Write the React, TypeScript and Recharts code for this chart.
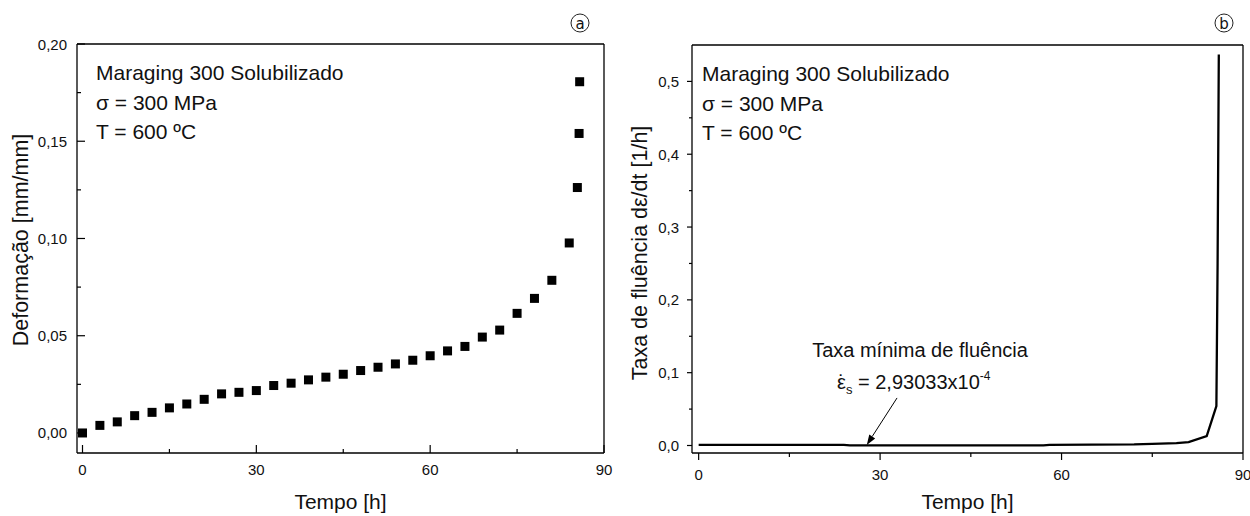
import { ScatterChart, Scatter, LineChart, Line, XAxis, YAxis, ReferenceLine, Label } from "recharts"

const FONT = '"Liberation Sans", Arial, sans-serif'
const BLACK = "#000"

// (a) deformação x tempo
const tempoDeformacao = [0, 3, 6, 9, 12, 15, 18, 21, 24, 27, 30, 33, 36, 39, 42, 45, 48, 51, 54, 57, 60, 63, 66, 69, 72, 75, 78, 81, 84, 85.4, 85.7, 85.8]
const deformacao = [0, 0.0039, 0.0057, 0.0089, 0.0106, 0.0129, 0.0149, 0.0173, 0.0201, 0.0209, 0.0218, 0.0244, 0.0256, 0.0273, 0.0287, 0.0302, 0.0321, 0.0338, 0.0355, 0.0374, 0.0397, 0.0422, 0.0445, 0.0493, 0.0529, 0.0615, 0.0692, 0.0785, 0.0977, 0.1262, 0.154, 0.1806]

// (b) taxa de fluência x tempo
const tempoTaxa = [0, 24, 25, 57, 58, 72, 75, 79, 81, 84, 85.6, 85.8, 86]
const taxa = [0.0009, 0.0009, 0.0003, 0.0003, 0.0009, 0.0015, 0.0022, 0.0032, 0.0047, 0.0128, 0.054, 0.25, 0.537]

// ticks
const ticksTempo = [0, 15, 30, 45, 60, 75, 90]
const majorTempo = [0, 30, 60, 90]
const ticksDeformacao = [0, 0.025, 0.05, 0.075, 0.1, 0.125, 0.15, 0.175, 0.2]
const majorDeformacao = [0, 0.05, 0.1, 0.15, 0.2]
const ticksTaxa = [0, 0.05, 0.1, 0.15, 0.2, 0.25, 0.3, 0.35, 0.4, 0.45, 0.5]
const majorTaxa = [0, 0.1, 0.2, 0.3, 0.4, 0.5]

const textoEnsaio = ["Maraging 300 Solubilizado", "σ = 300 MPa", "T = 600 ºC"]

const dadosDeformacao = tempoDeformacao.map((t, i) => ({ t, d: deformacao[i] }))
const dadosTaxa = tempoTaxa.map((t, i) => ({ t, r: taxa[i] }))

const hasValue = (arr: number[], v: number) => arr.some((m) => Math.abs(m - v) < 1e-9)
const virgula = (digits: number) => (v: number) => v.toFixed(digits).replace(".", ",")

function makeBottomTick(major: number[], fmt: (v: number) => string, len: number, minorLen: number, inward: boolean, gap: number) {
  return function BottomTick(props: any) {
    const { x, y, payload } = props
    const v = payload.value as number
    const isMajor = hasValue(major, v)
    const l = (isMajor ? len : minorLen) * (inward ? -1 : 1)
    return (
      <g>
        <line x1={x} x2={x} y1={y} y2={y + l} stroke={BLACK} strokeWidth={1.2} />
        {isMajor && (
          <text x={x} y={y + gap} textAnchor="middle" dominantBaseline="central" fontSize={15} fontFamily={FONT} fill="#111">
            {fmt(v)}
          </text>
        )}
      </g>
    )
  }
}

function makeLeftTick(major: number[], fmt: (v: number) => string, len: number, minorLen: number, inward: boolean, gap: number) {
  return function LeftTick(props: any) {
    const { x, y, payload } = props
    const v = payload.value as number
    const isMajor = hasValue(major, v)
    const l = (isMajor ? len : minorLen) * (inward ? 1 : -1)
    return (
      <g>
        <line x1={x} x2={x + l} y1={y} y2={y} stroke={BLACK} strokeWidth={1.2} />
        {isMajor && (
          <text x={x - gap} y={y} textAnchor="end" dominantBaseline="central" fontSize={15} fontFamily={FONT} fill="#111">
            {fmt(v)}
          </text>
        )}
      </g>
    )
  }
}

const Square = (props: any) => <rect x={props.cx - 4.5} y={props.cy - 4.5} width={9} height={9} fill={BLACK} />

function Arrow(props: any) {
  const { x1, y1, x2, y2 } = props
  const a = Math.atan2(y2 - y1, x2 - x1)
  const L = 10
  const W = 3.5
  const bx = x2 - L * Math.cos(a)
  const by = y2 - L * Math.sin(a)
  const px = -Math.sin(a) * W
  const py = Math.cos(a) * W
  return (
    <g>
      <line x1={x1} y1={y1} x2={bx} y2={by} stroke={BLACK} strokeWidth={1} />
      <polygon points={`${x2},${y2} ${bx + px},${by + py} ${bx - px},${by - py}`} fill={BLACK} />
    </g>
  )
}

const xTitle = (dy: number) => (p: any) => {
  const vb = p.viewBox
  return (
    <text x={vb.x + vb.width / 2} y={vb.y + dy} textAnchor="middle" fontSize={21} fontFamily={FONT} fill="#111">
      Tempo [h]
    </text>
  )
}

const yTitle = (text: string, x: number, cy: number, size: number) => () => (
  <text x={x} y={cy} transform={`rotate(-90 ${x} ${cy})`} textAnchor="middle" fontSize={size} fontFamily={FONT} fill="#111">
    {text}
  </text>
)

function Circled({ x, y, letter }: { x: number; y: number; letter: string }) {
  return (
    <g>
      <circle cx={x} cy={y} r={9} fill="none" stroke="#222" strokeWidth={1} />
      <text x={x} y={y + 0.5} textAnchor="middle" dominantBaseline="central" fontSize={15} fontFamily='"DejaVu Sans", sans-serif' fill="#111">
        {letter}
      </text>
    </g>
  )
}

export default function App() {
  return (
    <div style={{ position: "absolute", left: 0, top: 0, width: 1250, height: 516, background: "#fff" }}>
      <div style={{ position: "absolute", left: 0, top: 0 }}>
        <ScatterChart width={620} height={516} margin={{ top: 44, right: 16, bottom: 0, left: 0 }}>
          <XAxis
            dataKey="t"
            type="number"
            domain={[-0.95, 90]}
            allowDataOverflow
            ticks={ticksTempo}
            interval={0}
            tickSize={0}
            tickMargin={0}
            tickLine={false}
            height={63}
            axisLine={{ stroke: BLACK, strokeWidth: 1.3 }}
            tick={makeBottomTick(majorTempo, String, 8, 4, true, 16)}
          >
            <Label content={xTitle(56)} />
          </XAxis>
          <YAxis
            dataKey="d"
            type="number"
            domain={[-0.0103, 0.2]}
            allowDataOverflow
            ticks={ticksDeformacao}
            interval={0}
            tickSize={0}
            tickMargin={0}
            tickLine={false}
            width={77}
            axisLine={{ stroke: BLACK, strokeWidth: 1.3 }}
            tick={makeLeftTick(majorDeformacao, virgula(2), 8, 4, true, 10)}
          >
            <Label content={yTitle("Deformação [mm/mm]", 28, 240, 21.5)} />
          </YAxis>
          <ReferenceLine y={0.2} stroke={BLACK} strokeWidth={1.3} ifOverflow="visible" />
          <ReferenceLine x={90} stroke={BLACK} strokeWidth={1.3} ifOverflow="visible" />
          <Scatter data={dadosDeformacao} fill={BLACK} shape={Square} isAnimationActive={false} />
        </ScatterChart>
      </div>

      <div style={{ position: "absolute", left: 620, top: 0 }}>
        <LineChart width={630} height={516} data={dadosTaxa} margin={{ top: 45, right: 7, bottom: 0, left: 0 }}>
          <XAxis
            dataKey="t"
            type="number"
            domain={[-1.1, 90]}
            allowDataOverflow
            ticks={ticksTempo}
            interval={0}
            tickSize={0}
            tickMargin={0}
            tickLine={false}
            height={63}
            axisLine={{ stroke: BLACK, strokeWidth: 1.3 }}
            tick={makeBottomTick(majorTempo, String, 7, 4, false, 21)}
          >
            <Label content={xTitle(56)} />
          </XAxis>
          <YAxis
            type="number"
            domain={[-0.0103, 0.55]}
            allowDataOverflow
            ticks={ticksTaxa}
            interval={0}
            tickSize={0}
            tickMargin={0}
            tickLine={false}
            width={72}
            axisLine={{ stroke: BLACK, strokeWidth: 1.3 }}
            tick={makeLeftTick(majorTaxa, virgula(1), 5, 3, false, 13)}
          >
            <Label content={yTitle("Taxa de fluência dε/dt [1/h]", 27, 253, 21.5)} />
          </YAxis>
          <ReferenceLine y={0.55} stroke={BLACK} strokeWidth={1.3} ifOverflow="visible" />
          <ReferenceLine x={90} stroke={BLACK} strokeWidth={1.3} ifOverflow="visible" />
          <ReferenceLine
            segment={[
              { x: 32.8, y: 0.0653 },
              { x: 27.8, y: 0.0008 },
            ]}
            ifOverflow="visible"
            shape={Arrow}
          />
          <Line dataKey="r" type="linear" stroke={BLACK} strokeWidth={2.3} dot={false} isAnimationActive={false} />
        </LineChart>
      </div>

      <svg width={1250} height={516} style={{ position: "absolute", left: 0, top: 0, pointerEvents: "none" }}>
        <Circled x={580} y={23} letter="a" />
        <Circled x={1224} y={23} letter="b" />
        <g fontFamily={FONT} fontSize={21} fill="#111">
          {textoEnsaio.map((t, i) => (
            <text key={`a-${i}`} x={96} y={80 + i * 29.5}>
              {t}
            </text>
          ))}
          {textoEnsaio.map((t, i) => (
            <text key={`b-${i}`} x={702} y={81 + i * 29.5}>
              {t}
            </text>
          ))}
        </g>
        <g fontFamily={FONT} fill="#111">
          <text x={920} y={357} textAnchor="middle" fontSize={20}>
            Taxa mínima de fluência
          </text>
          <text x={841.5} y={389} textAnchor="middle" fontSize={20}>
            ˙
          </text>
          <text x={837} y={389} fontSize={20}>
            ε
            <tspan fontSize={13} dy={5}>
              s
            </tspan>
            <tspan fontSize={20} dy={-5}>
              {" = 2,93033x10"}
            </tspan>
            <tspan fontSize={12} dy={-9}>
              -4
            </tspan>
          </text>
        </g>
      </svg>
    </div>
  )
}
